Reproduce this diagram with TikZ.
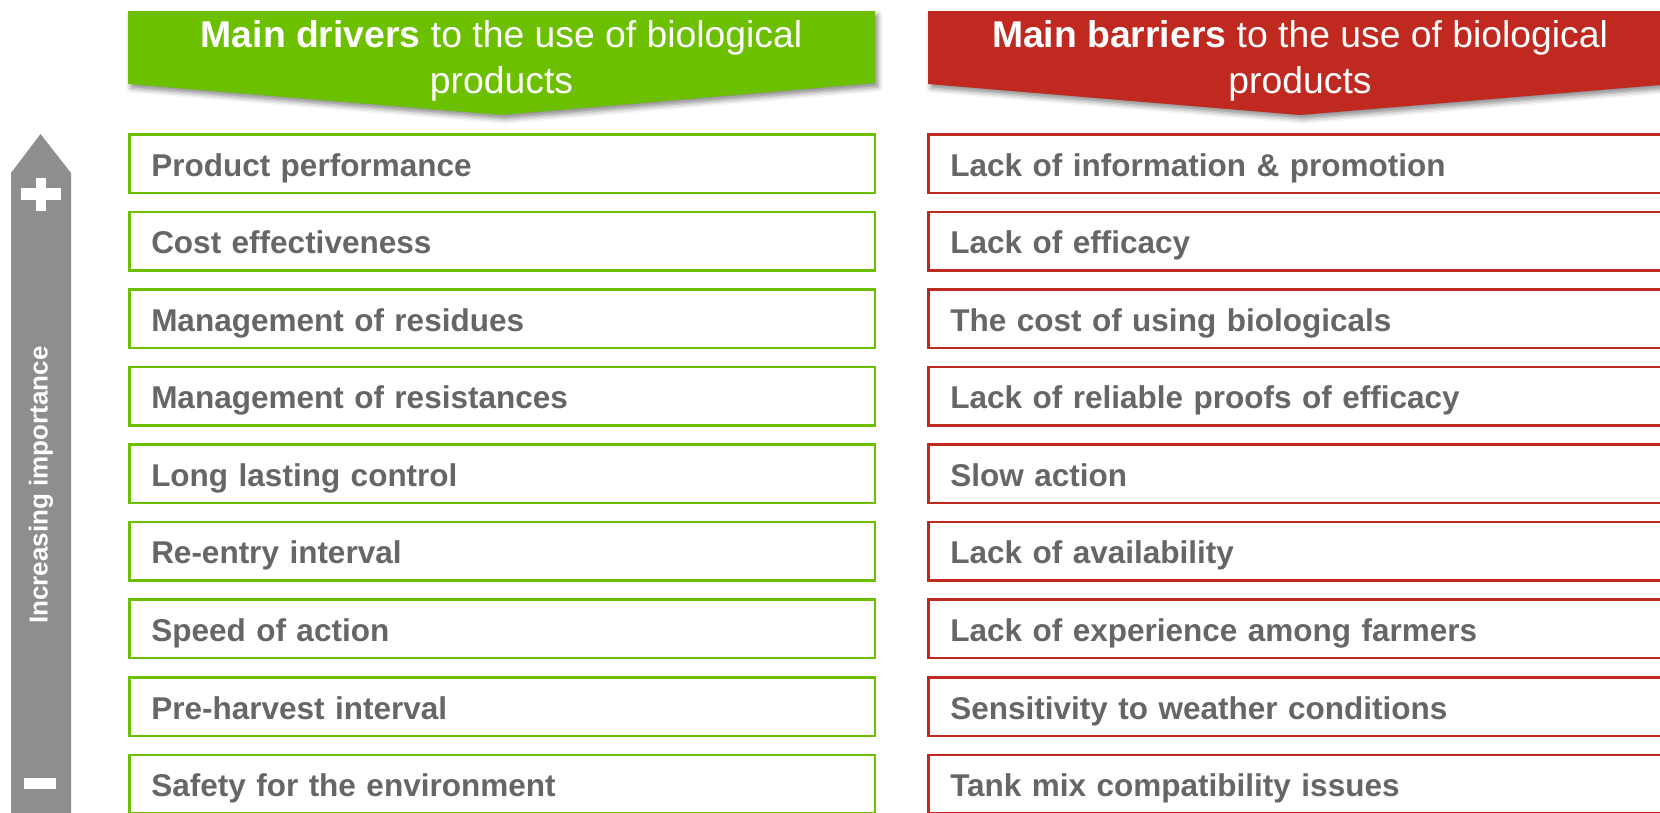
\documentclass[tikz,border=0pt]{standalone}
\usepackage{fontspec}
\setmainfont{Liberation Sans}
\usetikzlibrary{shadows.blur}
\definecolor{bgreen}{RGB}{108,192,0}
\definecolor{bred}{RGB}{192,41,31}
\definecolor{tgrey}{RGB}{102,102,102}
\definecolor{agrey}{RGB}{142,142,142}
\tikzset{
  itembox/.style={draw, line width=2.5pt, anchor=north west,
    minimum height=58.5pt, inner xsep=22pt, inner ysep=0pt,
    text height=25pt, text depth=0pt, align=left,
    text=tgrey, font=\bfseries\fontsize{31.5}{36}\selectfont},
  gbox/.style={itembox, draw=bgreen, minimum width=745.5pt, text width=701.5pt},
  rbox/.style={itembox, draw=bred, minimum width=760pt, text width=716pt},
  headtext/.style={anchor=base, text=white, inner sep=0pt,
    font=\fontsize{37.3}{45}\selectfont},
  headshadow/.style={blur shadow={shadow xshift=3pt, shadow yshift=-4pt,
    shadow blur radius=5pt, shadow opacity=45}}
}
\begin{document}
\begin{tikzpicture}[x=1pt, y=-1pt]
\useasboundingbox (0,0) rectangle (1660,812);
\clip (0,0) rectangle (1660,812);
% headers
\path[fill=bgreen, headshadow] (128,11) -- (875,11) -- (875,83) -- (501.5,115) -- (128,84) -- cycle;
\path[fill=bred, headshadow] (928,11) -- (1672,11) -- (1672,84) -- (1300,115) -- (928,84) -- cycle;
\node[headtext] (gh1) at (501.5,47.5) {\textbf{Main drivers} to the use of biological};
\node[headtext] (gh2) at (501.5,93) {products};
\node[headtext] (rh1) at (1300,47.5) {\textbf{Main barriers} to the use of biological};
\node[headtext] (rh2) at (1300,93) {products};
% importance arrow
\fill[agrey] (11,830) -- (11,173) -- (40.5,134) -- (71,173) -- (71,830) -- cycle;
\fill[white] (21,188) rectangle (61,200);
\fill[white] (35.5,177.5) rectangle (46,211);
\fill[white] (24,778) rectangle (56,789);
\node[rotate=90, text=white, font=\bfseries\fontsize{26}{30}\selectfont] (imp) at (41,485) {Increasing importance};
% drivers
\foreach \t [count=\i] in {Product performance, Cost effectiveness, Management of residues,
  Management of resistances, Long lasting control, Re-entry interval, Speed of action,
  Pre-harvest interval, Safety for the environment}
  \node[gbox] (d\i) at (128,{133+(\i-1)*77.57}) {\t};
% barriers
\foreach \t [count=\i] in {Lack of information \& promotion, Lack of efficacy,
  The cost of using biologicals, Lack of reliable proofs of efficacy, Slow action,
  Lack of availability, Lack of experience among farmers,
  Sensitivity to weather conditions, Tank mix compatibility issues}
  \node[rbox] (b\i) at (927,{133+(\i-1)*77.57}) {\t};
\end{tikzpicture}
\end{document}
